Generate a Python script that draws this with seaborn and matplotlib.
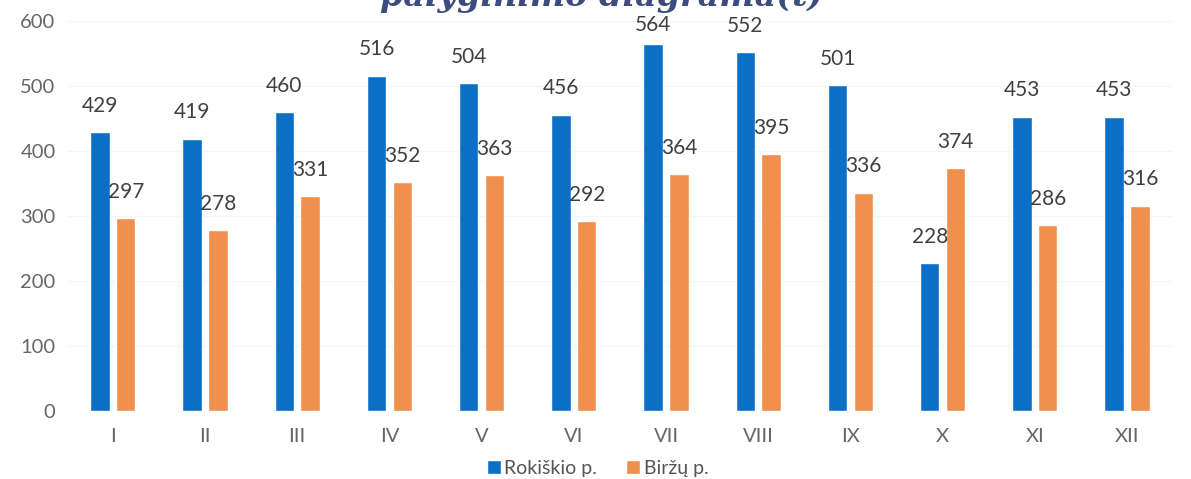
import pandas as pd
import seaborn as sns
import matplotlib.pyplot as plt

# Monthly values for the two districts.
months = ['I', 'II', 'III', 'IV', 'V', 'VI', 'VII', 'VIII', 'IX', 'X', 'XI', 'XII']
rokiskio = [429, 419, 460, 516, 504, 456, 564, 552, 501, 228, 453, 453]
birzu = [297, 278, 331, 352, 363, 292, 364, 395, 336, 374, 286, 316]
series = ['Rokiškio p.', 'Biržų p.']
colors = ['#0B6FC6', '#F0904F']

df = pd.DataFrame({
    'month': months * 2,
    'value': rokiskio + birzu,
    'series': [series[0]] * len(months) + [series[1]] * len(months),
})

sns.set_style('white')
plt.rcParams['font.family'] = ['Lato', 'DejaVu Sans']

fig = plt.figure(figsize=(11.91, 4.79), dpi=100)
ax = fig.add_axes([0.056, 0.142, 0.929, 0.814])

sns.barplot(data=df, x='month', y='value', hue='series', palette=colors,
            width=0.56, gap=0.25, saturation=1, ax=ax, legend=True)

# Value labels above bars, kept below the top of the plot area.
for cont in ax.containers:
    for bar in cont:
        v = bar.get_height()
        ax.text(bar.get_x() + bar.get_width() / 2, min(v + 25, 578), f'{v:.0f}',
                ha='center', va='bottom', fontsize=15, color='#404040')

ax.set_ylim(0, 600)
ax.set_yticks(range(0, 601, 100))
ax.set_xlim(-0.5, len(months) - 0.5)
ax.grid(axis='y', color='#f5f5f5', linewidth=0.8)
ax.set_axisbelow(True)
sns.despine(ax=ax, left=True, bottom=True)
ax.tick_params(axis='both', length=0, labelsize=14.5, labelcolor='#666666', pad=8)
ax.tick_params(axis='x', pad=12)
ax.set_xlabel('')
ax.set_ylabel('')

ax.legend(loc='upper center', bbox_to_anchor=(0.48, -0.08), ncol=2, frameon=False,
          fontsize=14, labelcolor='#555555', handlelength=0.7, handleheight=0.7,
          handletextpad=0.2, columnspacing=1.5)

# Title, mostly cut off by the top edge in the source image.
fig.text(0.505, 0.988, 'palyginimo diagrama(t)', ha='center', va='baseline',
         fontsize=24, fontstyle='italic', fontweight='bold', color='#3D4C7E',
         family=['DejaVu Serif'])

fig.savefig('out.png', dpi=100)
